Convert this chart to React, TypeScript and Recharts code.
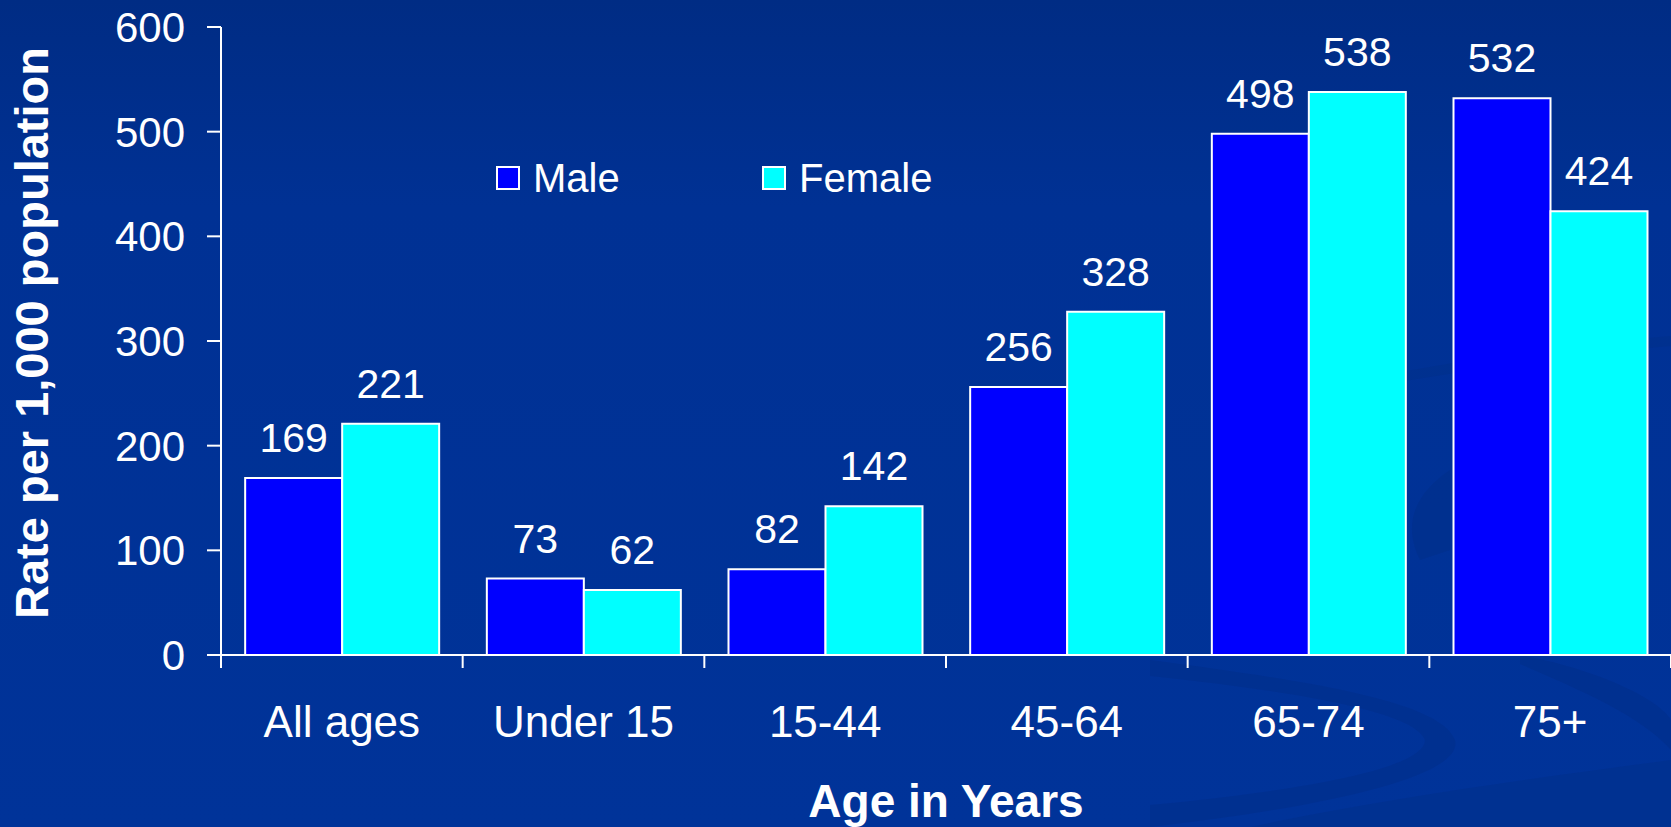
import React from "react";
import { BarChart, Bar, XAxis, YAxis, Legend, LabelList } from "recharts";

const AGES = ["All ages", "Under 15", "15-44", "45-64", "65-74", "75+"];
const MALE = [169, 73, 82, 256, 498, 532];
const FEMALE = [221, 62, 142, 328, 538, 424];
const Y_TICKS = [0, 100, 200, 300, 400, 500, 600];
const SERIES_ORDER = ["male", "female"];

const data = AGES.map((age, i) => ({ age, male: MALE[i], female: FEMALE[i] }));

const W = 1671;
const H = 827;
const FONT = "'Liberation Sans', Arial, sans-serif";
const LABEL_GAP = 51; // axis line -> category label
const EDGE_TICK = 13;

// category label plus the separator ticks that sit on the band edges
function CategoryTick(props: any) {
  const { x, y, payload, index, visibleTicksCount } = props;
  const half = payload?.offset ?? 0;
  const axisY = y - LABEL_GAP;
  const last = index === (visibleTicksCount ?? AGES.length) - 1;
  return (
    <g>
      <line x1={x - half} x2={x - half} y1={axisY} y2={axisY + EDGE_TICK} stroke="#fff" strokeWidth={2} />
      {last && <line x1={x + half} x2={x + half} y1={axisY} y2={axisY + EDGE_TICK} stroke="#fff" strokeWidth={2} />}
      <text x={x} y={y} dy="0.71em" textAnchor="middle" fill="#fff" fontSize={44}>
        {payload.value}
      </text>
    </g>
  );
}

function renderLegend(props: any) {
  const items = [...(props.payload ?? [])].sort(
    (a: any, b: any) => SERIES_ORDER.indexOf(a.dataKey) - SERIES_ORDER.indexOf(b.dataKey)
  );
  return (
    <div style={{ display: "flex", alignItems: "center", height: 40 }}>
      {items.map((p: any) => (
        <div key={p.value} style={{ display: "flex", alignItems: "center", width: 266 }}>
          <span
            style={{
              display: "inline-block",
              width: 20,
              height: 20,
              background: p.color,
              border: "2px solid #fff",
              marginRight: 13,
            }}
          />
          <span style={{ fontSize: 40, lineHeight: 1, color: "#fff" }}>{p.value}</span>
        </div>
      ))}
    </div>
  );
}

// faint swooshes from the slide template
function Backdrop() {
  return (
    <svg width={W} height={H} style={{ position: "absolute", left: 0, top: 0 }}>
      <defs>
        <linearGradient id="bg" x1="0" y1="0" x2="0" y2="1">
          <stop offset="0" stopColor="#002c84" />
          <stop offset="0.25" stopColor="#003194" />
          <stop offset="1" stopColor="#003399" />
        </linearGradient>
      </defs>
      <rect width={W} height={H} fill="url(#bg)" />
      <path d="M1150 660 C1300 680 1440 700 1455 740 C1465 780 1300 810 1150 827 L1150 805 C1290 792 1425 770 1425 740 C1415 712 1300 692 1150 676 Z" fill="#002f8a" opacity="0.6" />
      <path d="M1520 655 C1600 670 1660 700 1671 720 L1671 750 C1640 715 1580 690 1520 664 Z" fill="#002f8a" opacity="0.6" />
      <path d="M1420 560 C1400 520 1420 490 1450 470 L1450 550 Z" fill="#002f8a" opacity="0.6" />
      <path d="M1250 827 C1400 795 1560 775 1671 760 L1671 827 Z" fill="#002f8a" opacity="0.5" />
      <path d="M1300 390 C1450 362 1560 345 1671 336 L1671 346 C1560 355 1440 375 1300 398 Z" fill="#002f8a" opacity="0.5" />
    </svg>
  );
}

export default function App() {
  return (
    <div style={{ position: "absolute", left: 0, top: 0, width: W, height: H, fontFamily: FONT, overflow: "hidden" }}>
      <Backdrop />
      <div style={{ position: "absolute", left: 0, top: 0 }}>
        <BarChart
          width={W}
          height={H}
          data={data}
          margin={{ top: 27, right: 0, left: 0, bottom: 0 }}
          barCategoryGap="10%"
          barGap={0}
        >
          <XAxis
            dataKey="age"
            height={172}
            axisLine={{ stroke: "#fff", strokeWidth: 2 }}
            tickLine={false}
            tickSize={0}
            tickMargin={LABEL_GAP}
            interval={0}
            tick={<CategoryTick />}
            label={{ value: "Age in Years", position: "insideBottom", offset: 10, fill: "#fff", fontSize: 46, fontWeight: 700 }}
          />
          <YAxis
            width={221}
            domain={[0, 600]}
            ticks={Y_TICKS}
            interval={0}
            tickSize={14}
            tickMargin={22}
            axisLine={{ stroke: "#fff", strokeWidth: 2 }}
            tickLine={{ stroke: "#fff", strokeWidth: 2 }}
            tick={{ fill: "#fff", fontSize: 42 }}
            label={{ value: "Rate per 1,000 population", angle: -90, position: "center", dx: -79, dy: -8, fill: "#fff", fontSize: 47, fontWeight: 700 }}
          />
          <Legend
            layout="horizontal"
            verticalAlign="middle"
            align="center"
            content={renderLegend}
            wrapperStyle={{ top: 158, left: 496, width: "auto", height: 40 }}
          />
          <Bar dataKey="male" name="Male" fill="#0000ff" stroke="#fff" strokeWidth={2} isAnimationActive={false}>
            <LabelList dataKey="male" position="top" offset={26} fill="#fff" fontSize={41} />
          </Bar>
          <Bar dataKey="female" name="Female" fill="#00ffff" stroke="#fff" strokeWidth={2} isAnimationActive={false}>
            <LabelList dataKey="female" position="top" offset={26} fill="#fff" fontSize={41} />
          </Bar>
        </BarChart>
      </div>
    </div>
  );
}
